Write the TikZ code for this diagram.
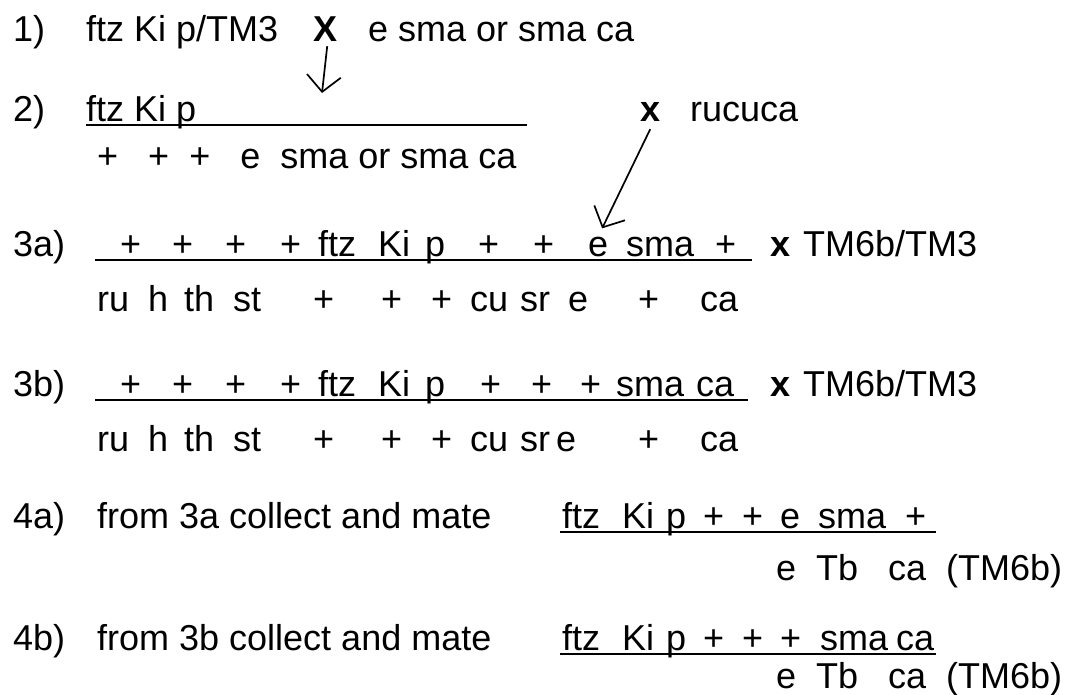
\documentclass[tikz,border=0pt]{standalone}
\usepackage{fontspec}
\setmainfont{Liberation Sans}
\usetikzlibrary{arrows.meta}

\newcommand{\genefont}{\fontsize{36}{42}\selectfont}

\begin{document}
\begin{tikzpicture}[x=1pt, y=-1pt]

% Styles
\tikzset{
  gene/.style={anchor=base west, inner sep=0pt, font=\genefont},
  xsign/.style={anchor=base west, inner sep=0pt, font=\genefont\bfseries},
  chrom/.style={line width=2.4pt},
  hop/.style={-{Straight Barb[length=16pt,width=34pt]}, line width=1.7pt}
}

% Frame
\useasboundingbox (0,0) rectangle (1075,694);

% Step labels
\foreach \lab/\y [count=\i] in {1)/41, 2)/121, 3a)/256, 3b)/396, 4a)/528, 4b)/650}
  \node[gene] (lab\i) at (13,\y) {\lab};

% 1) first cross
\node[gene] (p1) at (86,41) {ftz Ki p/TM3};
\node[xsign] (X1) at (313,41) {X};
\node[gene] (m1) at (368,41) {e sma or sma ca};

% 2) recombinant over the marked chromosome
\node[gene] (p2) at (86,121) {ftz Ki p};
\draw[chrom] (86,125) -- (527,125);
\node[gene] (m2) at (97,168) {+~~~+~~+~~~e~~sma or sma ca};
\node[xsign] (X2) at (640,121) {x};
\node[gene] (rucuca) at (690,121) {rucuca};
\coordinate (tip1) at (322,93);
\draw[hop] (X1.south) ++(2,5) coordinate (from1) (from1) -- (tip1);

% 3a) top chromosome
\foreach \x/\t [count=\i] in {120/+, 172/+, 225/+, 280/+, 318/ftz, 378/Ki, 425/p,
                              478/+, 533/+, 588/e, 626/sma, 715/+}
  \node[gene] (a\i) at (\x,256) {\t};
\draw[chrom] (95,260) -- (752,260);
\node[xsign] (X3a) at (770,256) {x};
\node[gene] (bal3a) at (803,256) {TM6b/TM3};

% 3a) bottom chromosome
\foreach \x/\t [count=\i] in {97/ru, 148/h, 184/th, 233/st, 313/+, 381/+, 431/+,
                              470/cu, 520/sr, 568/e, 638/+, 700/ca}
  \node[gene] (b\i) at (\x,311) {\t};

% arrow from second cross onto 3a
\draw[hop, shorten >=9pt] (X2.south) ++(0,8) coordinate (from2) (from2) -- (a10.north);

% 3b) top chromosome
\foreach \x/\t [count=\i] in {120/+, 172/+, 225/+, 280/+, 318/ftz, 378/Ki, 425/p,
                              480/+, 531/+, 580/+, 616/sma, 696/ca}
  \node[gene] (c\i) at (\x,396) {\t};
\draw[chrom] (95,400) -- (748,400);
\node[xsign] (X3b) at (770,396) {x};
\node[gene] (bal3b) at (803,396) {TM6b/TM3};

% 3b) bottom chromosome
\foreach \x/\t [count=\i] in {97/ru, 148/h, 184/th, 233/st, 313/+, 381/+, 431/+,
                              470/cu, 520/sr, 556/e, 638/+, 700/ca}
  \node[gene] (d\i) at (\x,451) {\t};

% 4a) and 4b)
\node[gene] (t4a) at (97,528) {from 3a collect and mate};
\foreach \x/\t [count=\i] in {562/ftz, 622/Ki, 666/p, 703/+, 742/+, 780/e, 818/sma, 905/+}
  \node[gene] (f\i) at (\x,528) {\t};
\draw[chrom] (560,532) -- (936,532);
\node[gene] (g4a) at (776,580) {e~~Tb~~~ca~~(TM6b)};

\node[gene] (t4b) at (97,650) {from 3b collect and mate};
\foreach \x/\t [count=\i] in {562/ftz, 622/Ki, 666/p, 703/+, 742/+, 780/+, 820/sma, 896/ca}
  \node[gene] (h\i) at (\x,650) {\t};
\draw[chrom] (560,654) -- (936,654);
\node[gene] (g4b) at (776,688) {e~~Tb~~~ca~~(TM6b)};

\end{tikzpicture}
\end{document}
